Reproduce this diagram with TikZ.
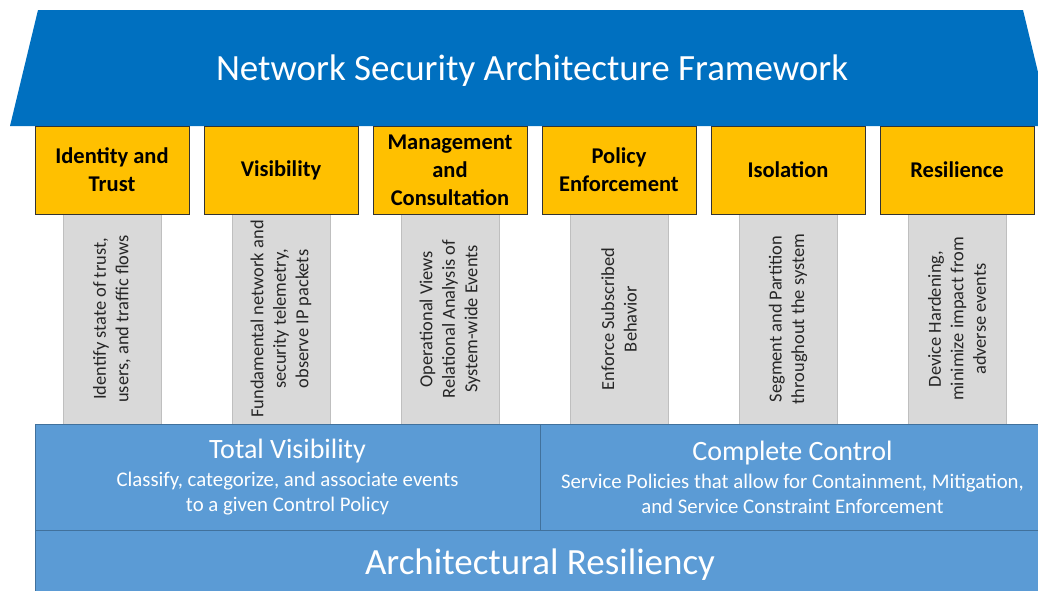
\documentclass[tikz,border=0pt]{standalone}
\usepackage{fontspec}
\setmainfont{Carlito}
\definecolor{roofblue}{HTML}{0070C0}
\definecolor{baseblue}{HTML}{5B9BD5}
\definecolor{baseedge}{HTML}{41719C}
\definecolor{capyellow}{HTML}{FFC000}
\definecolor{shaftgray}{HTML}{D9D9D9}
\definecolor{shaftedge}{HTML}{BFBFBF}

\tikzset{
  capbox/.style={draw=black!80,fill=capyellow,line width=0.9pt,minimum width=154pt,minimum height=88pt,
    inner sep=0pt,align=center,font=\fontsize{22.5}{28}\selectfont\bfseries},
  shaft/.style={draw=shaftedge,fill=shaftgray,line width=0.8pt,rotate=90,minimum width=210pt,
    minimum height=98pt,inner sep=0pt,align=center,text=black!85,font=\fontsize{18.4}{22.5}\selectfont},
  slab/.style={draw=baseedge,fill=baseblue,line width=0.6pt,inner sep=0pt,text=white,align=center},
}

\begin{document}
\begin{tikzpicture}[x=1pt,y=-1pt]
        \clip (0,0) rectangle (1038,590);
        % roof
        \fill[roofblue] (38,10) -- (1023,10) -- (1051,126) -- (10,126) -- cycle;
        \node[text=white,font=\fontsize{37}{42}\selectfont] (title) at (532,71) {Network Security Architecture Framework};
        % pillars
        \node[shaft] (s1) at (112,319) {Identify state of trust,\\users, and traffic flows};
        \node[shaft] (s2) at (281,319) {Fundamental network and\\security telemetry,\\observe IP packets};
        \node[shaft] (s3) at (450,319) {Operational Views\\Relational Analysis of\\System-wide Events};
        \node[shaft] (s4) at (619,319) {Enforce Subscribed\\Behavior};
        \node[shaft] (s5) at (788,319) {Segment and Partition\\throughout the system};
        \node[shaft] (s6) at (957,319) {Device Hardening,\\minimize impact from\\adverse events};
        % capitals
        \node[capbox] (ident) at (112,170) {Identity and\\Trust};
        \node[capbox] (vis) at (281,170) {Visibility};
        \node[capbox] (mgmt) at (450,170) {Management\\and\\Consultation};
        \node[capbox] (pol) at (619,170) {Policy\\Enforcement};
        \node[capbox] (iso) at (788,170) {Isolation};
        \node[capbox] (resil) at (957,170) {Resilience};
        % base
        \node[slab,minimum width=505pt,minimum height=106pt,font=\fontsize{20.8}{25}\selectfont] (total) at (287.5,477)
          {{\fontsize{28}{30}\selectfont Total Visibility}\\[3pt]Classify, categorize, and associate events\\to a given Control Policy};
        \node[slab,minimum width=505pt,minimum height=106pt,font=\fontsize{20.8}{25}\selectfont] (control) at (792.5,477)
          {{\fontsize{28}{30}\selectfont Complete Control}\\[3pt]Service Policies that allow for Containment, Mitigation,\\and Service Constraint Enforcement};
        \node[slab,minimum width=1010pt,minimum height=70pt,font=\fontsize{37}{40}\selectfont] (arch) at (540,565) {Architectural Resiliency};
\end{tikzpicture}
\end{document}
